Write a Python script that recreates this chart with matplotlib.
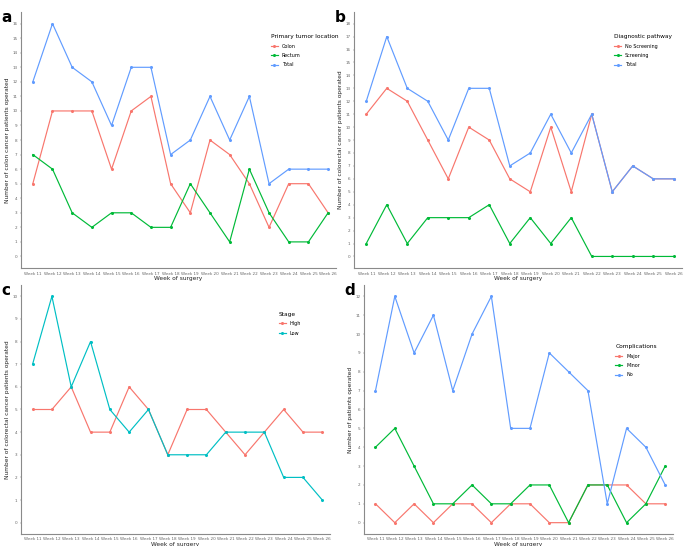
import matplotlib
matplotlib.use("Agg")
import matplotlib.pyplot as plt

weeks = [f"Week {w}" for w in range(11, 27)]

# Panel a
a_colon = [5, 10, 10, 10, 6, 10, 11, 5, 3, 8, 7, 5, 2, 5, 5, 3]
a_rectum = [7, 6, 3, 2, 3, 3, 2, 2, 5, 3, 1, 6, 3, 1, 1, 3]
a_total = [12, 16, 13, 12, 9, 13, 13, 7, 8, 11, 8, 11, 5, 6, 6, 6]

# Panel b
b_noscreen = [11, 13, 12, 9, 6, 10, 9, 6, 5, 10, 5, 11, 5, 7, 6, 6]
b_screen = [1, 4, 1, 3, 3, 3, 4, 1, 3, 1, 3, 0, 0, 0, 0, 0]
b_total = [12, 17, 13, 12, 9, 13, 13, 7, 8, 11, 8, 11, 5, 7, 6, 6]

# Panel c
c_high = [5, 5, 6, 4, 4, 6, 5, 3, 5, 5, 4, 3, 4, 5, 4, 4]
c_low = [7, 10, 6, 8, 5, 4, 5, 3, 3, 3, 4, 4, 4, 2, 2, 1]

# Panel d
d_major = [1, 0, 1, 0, 1, 1, 0, 1, 1, 0, 0, 2, 2, 2, 1, 1]
d_minor = [4, 5, 3, 1, 1, 2, 1, 1, 2, 2, 0, 2, 2, 0, 1, 3]
d_no = [7, 12, 9, 11, 7, 10, 12, 5, 5, 9, 8, 7, 1, 5, 4, 2]

RED, GREEN, BLUE, CYAN = "#F8766D", "#00BA38", "#619CFF", "#00BFC4"

fig = plt.figure(figsize=(6.84, 5.46), dpi=100)

panels = [
    dict(rect=[0.0307, 0.509, 0.4605, 0.469], label="a",
         series=[("Colon", a_colon, RED), ("Rectum", a_rectum, GREEN), ("Total", a_total, BLUE)],
         ymax=16, ylim=(-0.8, 16.8), ylabel="Number of colon cancer patients operated",
         ltitle="Primary tumor location", lpos=(0.78, 0.93)),
    dict(rect=[0.5175, 0.509, 0.4795, 0.469], label="b",
         series=[("No Screening", b_noscreen, RED), ("Screening", b_screen, GREEN), ("Total", b_total, BLUE)],
         ymax=18, ylim=(-0.9, 18.9), ylabel="Number of colorectal cancer patients operated",
         ltitle="Diagnostic pathway", lpos=(0.78, 0.93)),
    dict(rect=[0.0307, 0.022, 0.4518, 0.456], label="c",
         series=[("High", c_high, RED), ("Low", c_low, CYAN)],
         ymax=10, ylim=(-0.5, 10.5), ylabel="Number of colorectal cancer patients operated",
         ltitle="Stage", lpos=(0.82, 0.91)),
    dict(rect=[0.532, 0.022, 0.4518, 0.456], label="d",
         series=[("Major", d_major, RED), ("Minor", d_minor, GREEN), ("No", d_no, BLUE)],
         ymax=12, ylim=(-0.6, 12.6), ylabel="Number of patients operated",
         ltitle="Complications", lpos=(0.80, 0.78)),
]

x = list(range(len(weeks)))
for p in panels:
    ax = fig.add_axes(p["rect"])
    for name, vals, col in p["series"]:
        ax.plot(x, vals, color=col, lw=0.85, marker="o", ms=1.2, label=name)
    ax.set_xlim(-0.6, len(weeks) - 0.6)
    ax.set_ylim(*p["ylim"])
    ax.set_xticks(x)
    ax.set_xticklabels(weeks)
    ax.set_yticks(range(0, p["ymax"] + 1))
    ax.tick_params(labelsize=3, colors="#666666", length=1.0, width=0.3, pad=1.5)
    for s in ["top", "right"]:
        ax.spines[s].set_visible(False)
    for s in ["left", "bottom"]:
        ax.spines[s].set_color("#8a8a8a")
        ax.spines[s].set_linewidth(0.8)
    ax.set_xlabel("Week of surgery", fontsize=4.2, labelpad=0.5, color="#222222")
    ax.set_ylabel(p["ylabel"], fontsize=4.2, labelpad=2, color="#222222")
    ax.legend(title=p["ltitle"], loc="upper left", bbox_to_anchor=p["lpos"],
              frameon=False, fontsize=3.5, title_fontsize=4.2,
              handlelength=1.4, handletextpad=0.8, labelspacing=0.9,
              alignment="left")
    fig.text(p["rect"][0] - 0.028, p["rect"][1] + p["rect"][3] + 0.003, p["label"],
             fontsize=11, fontweight="bold", ha="left", va="top")

fig.savefig("out.png", dpi=100)
